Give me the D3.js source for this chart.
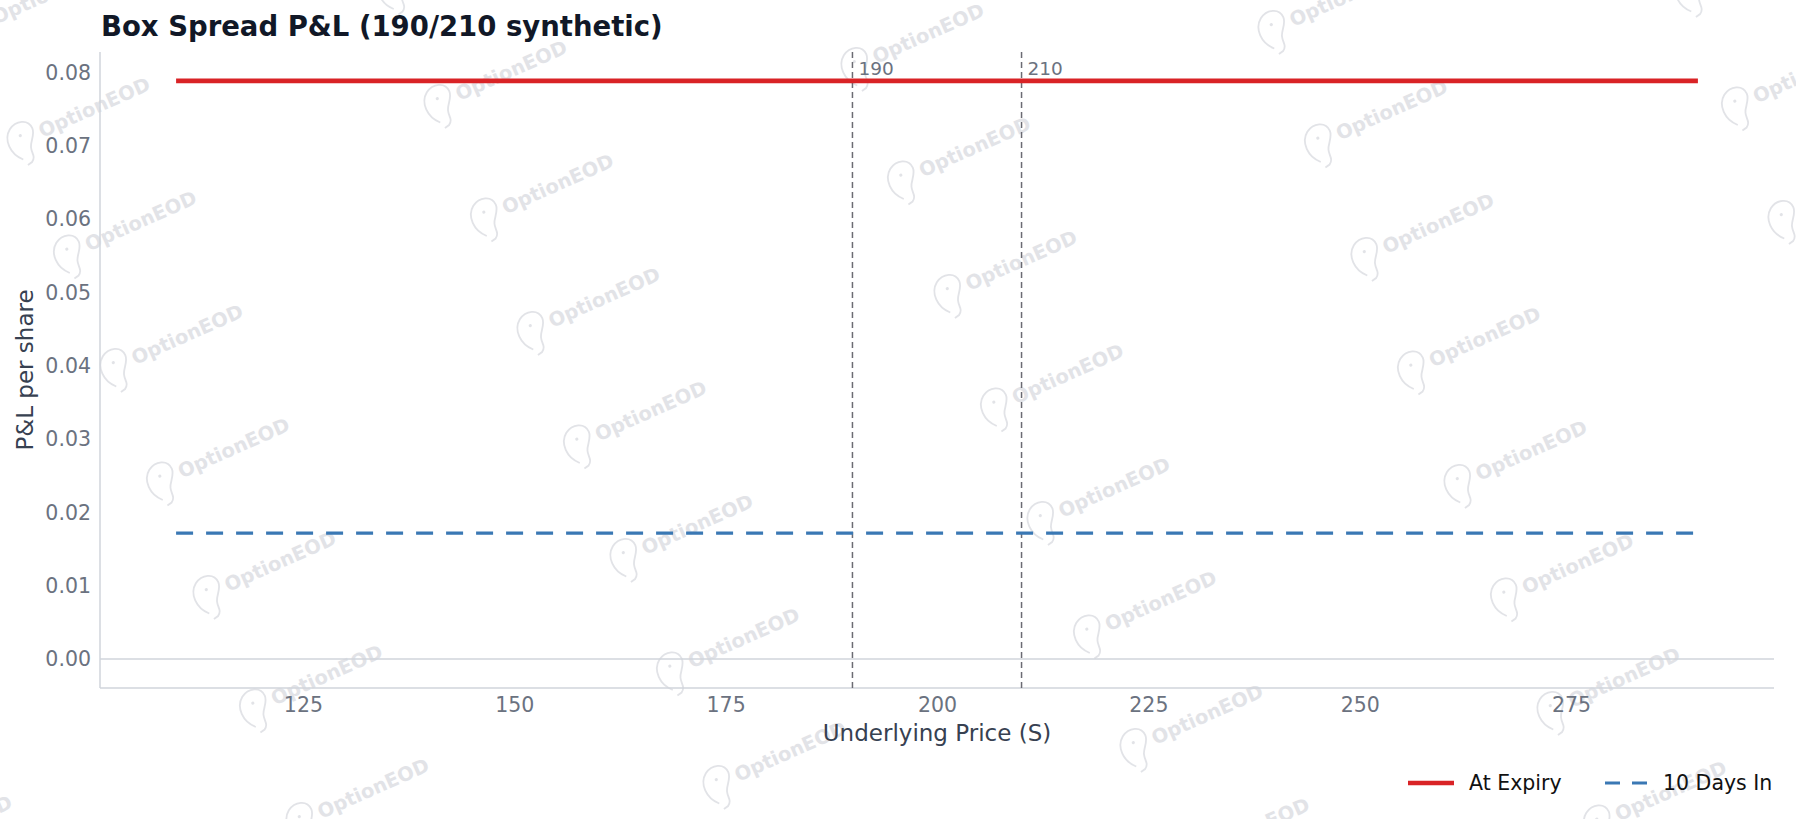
<!DOCTYPE html>
<html>
<head>
<meta charset="utf-8">
<script src="https://cdn.jsdelivr.net/npm/d3@7/dist/d3.min.js"></script>
<style>
  body { margin: 0; background: #fff; }
  text { font-family: "DejaVu Sans", sans-serif; }
</style>
</head>
<body>
<div id="chart"></div>
<script>
const width = 1796, height = 819;

var prices = [110, 130, 150, 170, 190, 210, 230, 250, 270, 290];
var atExpiry = [0.0789, 0.0789, 0.0789, 0.0789, 0.0789, 0.0789, 0.0789, 0.0789, 0.0789, 0.0789];
var tenDaysIn = [0.0172, 0.0172, 0.0172, 0.0172, 0.0172, 0.0172, 0.0172, 0.0172, 0.0172, 0.0172];
var strikes = [190, 210];
var xTicks = [125, 150, 175, 200, 225, 250, 275];
var yTicks = [0, 0.01, 0.02, 0.03, 0.04, 0.05, 0.06, 0.07, 0.08];
var seriesNames = ["At Expiry", "10 Days In"];

var margin = {top: 52, right: 22, bottom: 131, left: 100};

var svg = d3.select("#chart").append("svg")
    .attr("width", width)
    .attr("height", height);

svg.append("rect").attr("width", width).attr("height", height).attr("fill", "#fff");

var drawWatermarks = function() {
    var g = svg.append("g").attr("class", "watermarks");
    for (var i = -3; i < 7; i++) {
        for (var j = -3; j < 9; j++) {
            var px = 33 + i * 417 + j * 46.5,
                py = 142 - i * 37 + j * 113.5;
            if (px < -150 || px > width + 20 || py < -20 || py > height + 60) continue;
            var w = g.append("g")
                .attr("transform", "translate(" + px + "," + py + ") rotate(-24)")
                .attr("opacity", 0.7);
            w.append("path")
                .attr("d", "M-16,12 C-26,2 -26,-14 -16,-21 C-7,-27 5,-23 5,-13 C5,-6 -2,-2 -4,4 C-6,10 -3,14 -9,18 L-14,19")
                .attr("fill", "none")
                .attr("stroke", "#d6d8de")
                .attr("stroke-width", 1.8);
            w.append("circle").attr("cx", -9).attr("cy", -11).attr("r", 1.6).attr("fill", "#d6d8de");
            w.append("text")
                .attr("x", 10)
                .attr("y", 0)
                .attr("font-size", 19.5)
                .attr("font-weight", "bold")
                .attr("fill", "#d6d8de")
                .text("OptionEOD");
        }
    }
};

var drawChart = function() {
    var xPad = (d3.max(prices) - d3.min(prices)) * 0.05;
    var x = d3.scaleLinear()
        .domain([d3.min(prices) - xPad, d3.max(prices) + xPad])
        .range([margin.left, width - margin.right]);

    var yMax = d3.max(atExpiry.concat(tenDaysIn)), yMin = 0;
    var yPad = (yMax - yMin) * 0.05;
    var y = d3.scaleLinear()
        .domain([yMin - yPad, yMax + yPad])
        .range([height - margin.bottom, margin.top]);

    // spines
    svg.append("line")
        .attr("x1", margin.left).attr("x2", margin.left)
        .attr("y1", margin.top).attr("y2", height - margin.bottom)
        .attr("stroke", "#d1d5db").attr("stroke-width", 1.5);
    svg.append("line")
        .attr("x1", margin.left).attr("x2", width - margin.right)
        .attr("y1", height - margin.bottom).attr("y2", height - margin.bottom)
        .attr("stroke", "#d1d5db").attr("stroke-width", 1.5);

    var xAxis = svg.append("g")
        .attr("transform", "translate(0," + (height - margin.bottom) + ")")
        .call(d3.axisBottom(x).tickValues(xTicks).tickSize(0).tickPadding(9).tickFormat(d3.format("d")));
    xAxis.select(".domain").remove();
    xAxis.selectAll("text").attr("font-size", 20.5).attr("fill", "#6b7280")
        .attr("font-family", "DejaVu Sans");

    var yAxis = svg.append("g")
        .attr("transform", "translate(" + margin.left + ",0)")
        .call(d3.axisLeft(y).tickValues(yTicks).tickSize(0).tickPadding(9).tickFormat(d3.format(".2f")));
    yAxis.select(".domain").remove();
    yAxis.selectAll("text").attr("font-size", 20.5).attr("fill", "#6b7280")
        .attr("font-family", "DejaVu Sans");

    // zero line
    svg.append("line")
        .attr("x1", margin.left).attr("x2", width - margin.right)
        .attr("y1", y(0)).attr("y2", y(0))
        .attr("stroke", "#d1d5db").attr("stroke-width", 1.5);

    // strikes
    svg.selectAll(".strike").data(strikes)
        .enter().append("line")
        .attr("class", "strike")
        .attr("x1", (d) => x(d)).attr("x2", (d) => x(d))
        .attr("y1", margin.top).attr("y2", height - margin.bottom)
        .attr("stroke", "#6b6b73").attr("stroke-width", 1.5)
        .attr("stroke-dasharray", "6,4");
    svg.selectAll(".strike-label").data(strikes)
        .enter().append("text")
        .attr("class", "strike-label")
        .attr("x", (d) => x(d) + 6)
        .attr("y", 75)
        .attr("font-size", 18.5)
        .attr("fill", "#6b7280")
        .text((d) => d);

    var line = d3.line()
        .x((d) => x(d[0]))
        .y((d) => y(d[1]));

    svg.append("path")
        .datum(d3.zip(prices, tenDaysIn))
        .attr("d", line)
        .attr("fill", "none")
        .attr("stroke", "#3a78b4")
        .attr("stroke-width", 3.2)
        .attr("stroke-dasharray", "17,13");

    svg.append("path")
        .datum(d3.zip(prices, atExpiry))
        .attr("d", line)
        .attr("fill", "none")
        .attr("stroke", "#d92326")
        .attr("stroke-width", 4.6);

    // titles
    svg.append("text")
        .attr("x", 101).attr("y", 36)
        .attr("font-size", 27.5).attr("font-weight", "bold")
        .attr("fill", "#111827")
        .text("Box Spread P&L (190/210 synthetic)");
    svg.append("text")
        .attr("x", (margin.left + width - margin.right) / 2).attr("y", 741)
        .attr("text-anchor", "middle")
        .attr("font-size", 23).attr("fill", "#374151")
        .text("Underlying Price (S)");
    svg.append("text")
        .attr("transform", "translate(33," + ((margin.top + height - margin.bottom) / 2) + ") rotate(-90)")
        .attr("text-anchor", "middle")
        .attr("font-size", 23).attr("fill", "#374151")
        .text("P&L per share");

    // legend
    var legend = svg.append("g").attr("transform", "translate(1408,783)");
    var items = legend.selectAll("g").data(seriesNames)
        .enter().append("g")
        .attr("transform", (d, i) => "translate(" + (i * 197) + ",0)");
    items.append("line")
        .attr("x1", 0).attr("x2", 46)
        .attr("y1", 0).attr("y2", 0)
        .attr("stroke", (d, i) => i == 0 ? "#d92326" : "#3a78b4")
        .attr("stroke-width", (d, i) => i == 0 ? 4.6 : 3.2)
        .attr("stroke-dasharray", (d, i) => i == 0 ? null : "15,12");
    items.append("text")
        .attr("x", (d, i) => i == 0 ? 61 : 58)
        .attr("y", 7)
        .attr("font-size", 20.5)
        .attr("fill", "#111")
        .text((d) => d);
};

drawWatermarks();
drawChart();
</script>
</body>
</html>
